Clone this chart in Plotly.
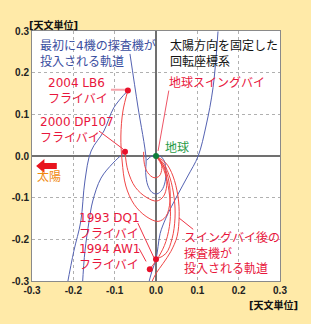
import plotly.graph_objects as go

# ---- data (astronomical units, rotating frame) ----
tick_vals = [-0.3, -0.2, -0.1, 0.0, 0.1, 0.2, 0.3]
tick_text = ["-0.3", "-0.2", "-0.1", "0.0", "0.1", "0.2", "0.3"]

# initial orbits (blue)
blue1_x = [0.150, 0.138, 0.121, 0.102, 0.077, 0.053, 0.024, 0.010, 0.005, 0.000, -0.010, -0.019]
blue1_y = [0.299, 0.164, 0.072, 0.000, -0.048, -0.092, -0.149, -0.186, -0.217, -0.248, -0.277, -0.310]
blue2_x = [-0.063, -0.044, -0.024, -0.025, -0.020, -0.010, 0.002, 0.014, 0.022, 0.024, 0.020, 0.010, 0.000, -0.012, -0.022]
blue2_y = [0.245, 0.120, -0.007, -0.040, -0.070, -0.087, -0.091, -0.082, -0.062, -0.035, -0.012, 0.000, 0.002, -0.001, -0.010]
blue3_x = [-0.068, -0.102, -0.126, -0.157, -0.172, -0.182, -0.199, -0.215]
blue3_y = [0.157, 0.116, 0.060, 0.012, -0.060, -0.157, -0.229, -0.310]
blue4_x = [-0.075, -0.104, -0.133, -0.153, -0.162, -0.172, -0.178]
blue4_y = [0.010, -0.017, -0.053, -0.108, -0.157, -0.229, -0.310]

# flyby -> earth loops (red)
loop1_x = [-0.068, -0.080, -0.085, -0.082, -0.073, -0.053, -0.024, 0.005, 0.024, 0.034, 0.031, 0.019, 0.000]
loop1_y = [0.157, 0.108, 0.048, -0.012, -0.072, -0.116, -0.145, -0.157, -0.145, -0.108, -0.060, -0.024, 0.000]
loop2_x = [-0.075, -0.068, -0.050, -0.022, 0.002, 0.018, 0.026, 0.022, 0.010, 0.000]
loop2_y = [0.010, -0.035, -0.075, -0.100, -0.108, -0.097, -0.070, -0.035, -0.012, 0.000]
loop3_x = [-0.030, -0.028, -0.020, -0.005, 0.008, 0.014, 0.010, 0.000]
loop3_y = [0.010, -0.020, -0.040, -0.052, -0.048, -0.030, -0.010, 0.000]

# after swingby (red)
after1_x = [0.000, 0.024, 0.041, 0.053, 0.056, 0.051, 0.036, 0.017, 0.000, -0.012]
after1_y = [0.000, -0.017, -0.048, -0.096, -0.145, -0.193, -0.229, -0.258, -0.282, -0.306]
after2_x = [0.000, 0.019, 0.034, 0.044, 0.046, 0.039, 0.024, 0.000]
after2_y = [0.000, -0.019, -0.053, -0.101, -0.149, -0.198, -0.234, -0.248]
after3_x = [0.000, 0.015, 0.027, 0.034, 0.034, 0.024, 0.007, -0.015]
after3_y = [0.000, -0.024, -0.060, -0.108, -0.157, -0.205, -0.241, -0.272]

# flyby points
flyby_x = [-0.068, -0.075, 0.000, -0.015]
flyby_y = [0.157, 0.010, -0.248, -0.272]
earth_x = [0.0]
earth_y = [0.0]

# leader lines
leaders = [
    ([-0.109, -0.073], [0.159, 0.159], "#f6a3ab", 2),
    ([-0.138, -0.080], [0.060, 0.017], "#ee3344", 1),
    ([0.031, 0.005], [0.157, 0.012], "#ee5566", 1),
    ([-0.044, -0.005], [-0.161, -0.244], "#ee3344", 1),
    ([-0.041, -0.024], [-0.222, -0.253], "#ee3344", 1),
    ([0.090, 0.056], [-0.176, -0.149], "#ee3344", 1),
]

BLUE = "#5462b2"
RED = "#f04646"
TXT_RED = "#e8163c"
TXT_BLUE = "#3a4ea0"
FONT = "DejaVu Sans, Noto Sans CJK JP"

fig = go.Figure()

for xs, ys in [(blue1_x, blue1_y), (blue2_x, blue2_y), (blue3_x, blue3_y), (blue4_x, blue4_y)]:
    fig.add_trace(go.Scatter(x=xs, y=ys, mode="lines", line=dict(color=BLUE, width=1, shape="spline"),
                             hoverinfo="skip", showlegend=False))
for xs, ys in [(loop1_x, loop1_y), (loop2_x, loop2_y), (loop3_x, loop3_y),
               (after1_x, after1_y), (after2_x, after2_y), (after3_x, after3_y)]:
    fig.add_trace(go.Scatter(x=xs, y=ys, mode="lines", line=dict(color=RED, width=1, shape="spline"),
                             hoverinfo="skip", showlegend=False))
for xs, ys, c, w in leaders:
    fig.add_trace(go.Scatter(x=xs, y=ys, mode="lines", line=dict(color=c, width=w),
                             hoverinfo="skip", showlegend=False))

fig.add_trace(go.Scatter(x=flyby_x, y=flyby_y, mode="markers", marker=dict(color="#e8102a", size=6),
                         hoverinfo="skip", showlegend=False))
fig.add_trace(go.Scatter(x=earth_x, y=earth_y, mode="markers", marker=dict(color="#0e7d3a", size=6),
                         hoverinfo="skip", showlegend=False))

# sun arrow
fig.add_shape(type="path",
              path="M -0.290 -0.024 L -0.270 -0.041 L -0.270 -0.031 L -0.240 -0.031 L -0.240 -0.017 L -0.270 -0.017 L -0.270 -0.007 Z",
              fillcolor="#e8141e", line=dict(width=0), xref="x", yref="y")

def txt(x, y, s, color, size=12, anchor="left"):
    fig.add_annotation(x=x, y=y, xref="x", yref="y", text=s, showarrow=False, xanchor=anchor,
                       yanchor="middle", align="left", font=dict(family=FONT, size=size, color=color))

txt(-0.285, 0.246, "最初に4機の探査機が<br>投入される軌道", TXT_BLUE)
txt(0.028, 0.246, "太陽方向を固定した<br>回転座標系", "#111111")
txt(-0.266, 0.155, "2004 LB6<br>フライバイ", TXT_RED)
txt(-0.285, 0.063, "2000 DP107<br>フライバイ", TXT_RED)
txt(0.026, 0.176, "地球スイングバイ", TXT_RED)
txt(0.018, 0.020, "地球", "#1f9a45")
txt(-0.258, -0.048, "太陽", "#f08a10", anchor="center")
txt(-0.191, -0.167, "1993 DQ1<br>フライバイ", TXT_RED)
txt(-0.191, -0.243, "1994 AW1<br>フライバイ", TXT_RED)
txt(0.062, -0.234, "スイングバイ後の<br>探査機が<br>投入される軌道", TXT_RED)

unit_font = dict(family=FONT, size=10, color="#111111", weight="bold")
fig.add_annotation(x=0, y=1, xref="paper", yref="paper", xshift=-5, yshift=6, text="[天文単位]",
                   showarrow=False, xanchor="left", yanchor="middle", font=unit_font)
fig.add_annotation(x=1, y=0, xref="paper", yref="paper", xshift=20, yshift=-24, text="[天文単位]",
                   showarrow=False, xanchor="right", yanchor="middle", font=unit_font)

axis_common = dict(range=[-0.3, 0.3], tickvals=tick_vals, ticktext=tick_text,
                   showgrid=True, gridcolor="#b0b0b0", griddash="dot", gridwidth=1,
                   zeroline=True, zerolinecolor="#707070", zerolinewidth=2,
                   showline=True, mirror=True, linecolor="#8a8a8a", linewidth=1,
                   ticks="", tickfont=dict(family="Liberation Sans", size=10, color="#222222", weight="bold"),
                   fixedrange=True)
fig.update_xaxes(**axis_common)
fig.update_yaxes(**axis_common)

fig.update_layout(width=311, height=324, margin=dict(l=32, r=31, t=31, b=43),
                  paper_bgcolor="#ffeaa8", plot_bgcolor="#ffffff", showlegend=False)

fig.write_html("out.html")
